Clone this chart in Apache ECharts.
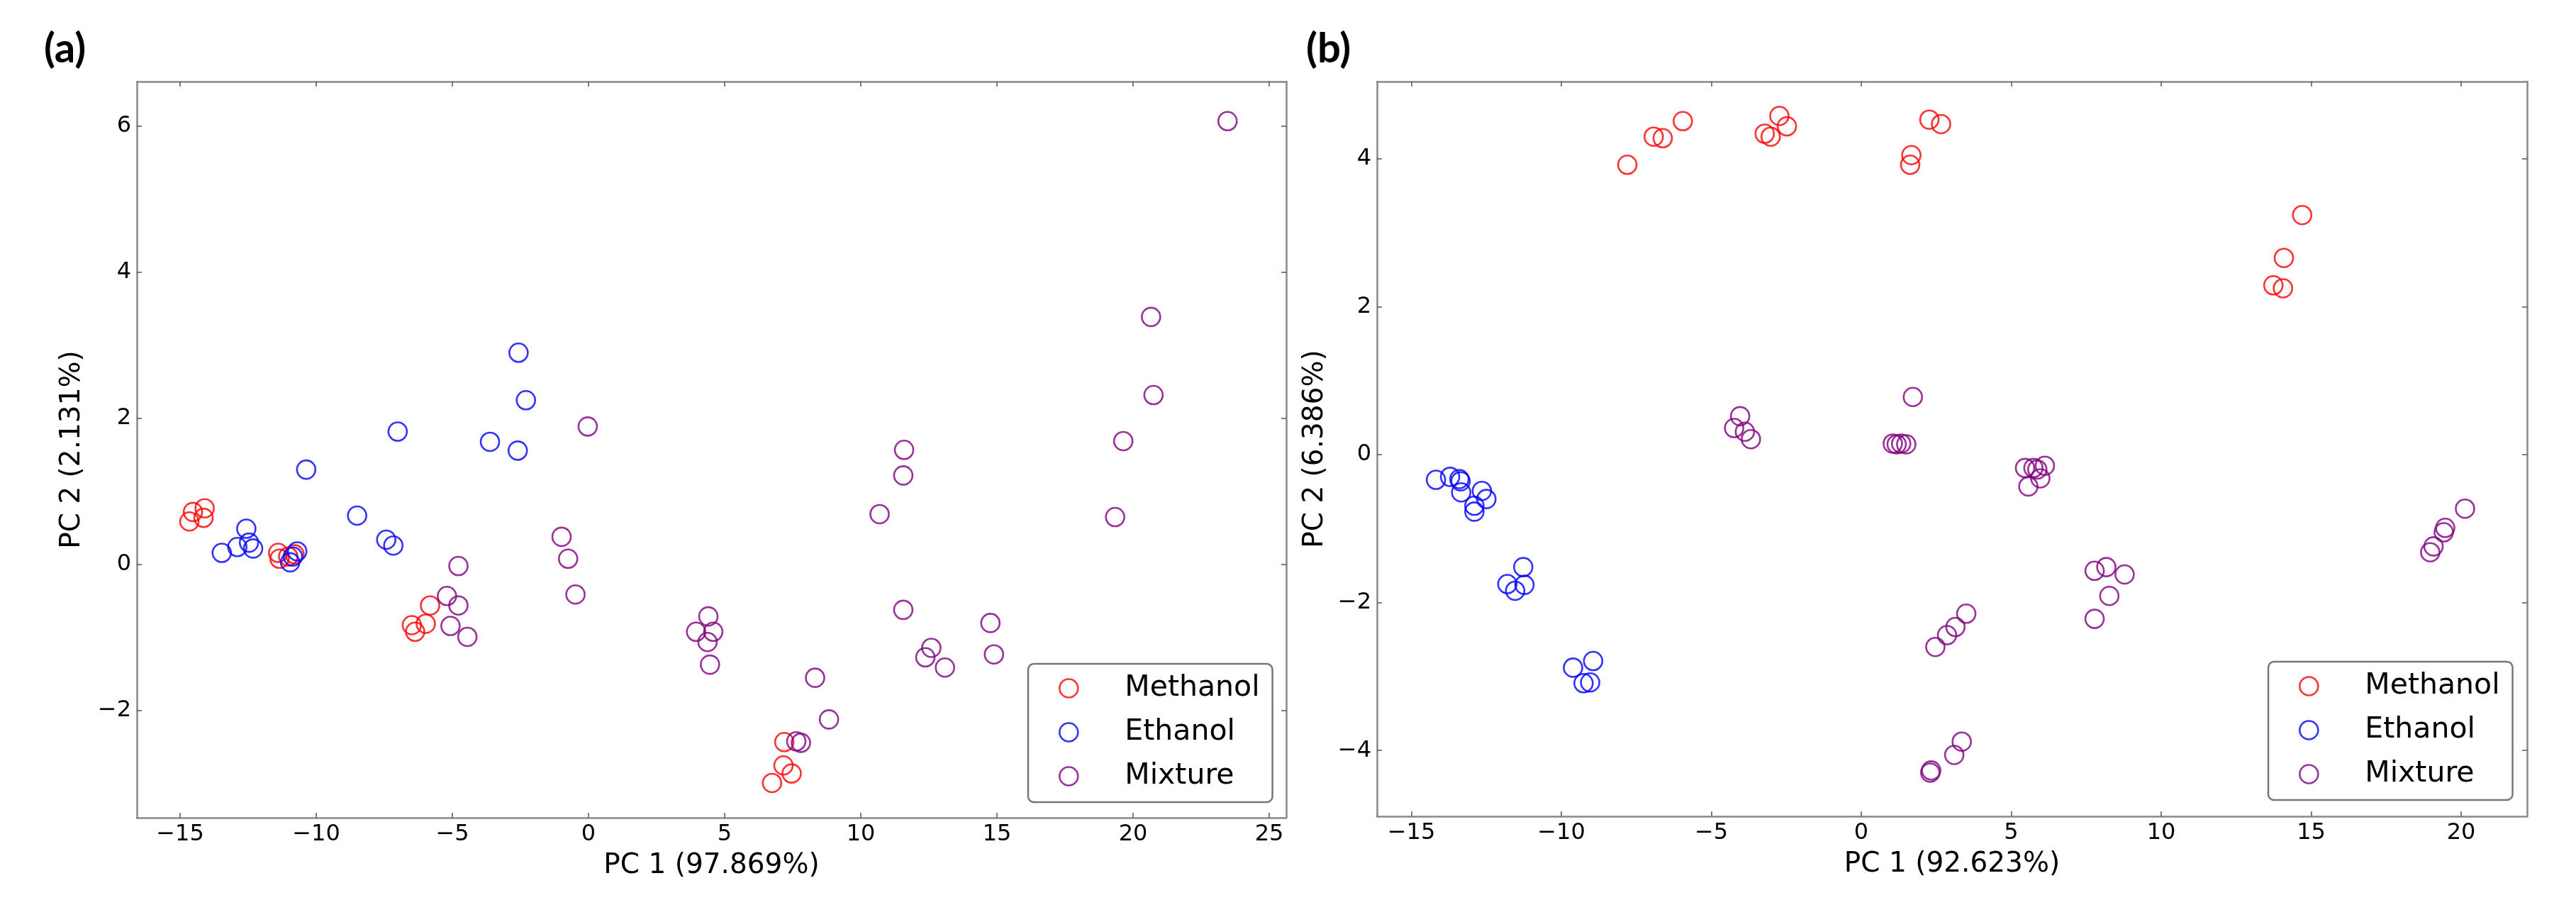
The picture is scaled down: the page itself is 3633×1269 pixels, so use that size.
<!DOCTYPE html>
<html>
<head>
<meta charset="utf-8">
<script src="https://cdn.jsdelivr.net/npm/echarts@6/dist/echarts.min.js"></script>
<style>
html, body { margin: 0; padding: 0; background: #fff; }
#chart { width: 3633px; height: 1269px; }
</style>
</head>
<body>
<div id="chart"></div>
<script>
const seriesNames = ["Methanol", "Ethanol", "Mixture"];
const seriesColors = ["#ff0000", "#0000ff", "#800080"];
const panelLabels = ["(a)", "(b)"];

// panel (a)
const methanolA = [
    [-14.66, 0.59], [-14.53, 0.72], [-14.10, 0.77], [-14.14, 0.64],
    [-11.40, 0.16], [-11.35, 0.08], [-11.03, 0.11], [-10.80, 0.14],
    [-5.82, -0.56], [-5.98, -0.81], [-6.49, -0.83], [-6.37, -0.92],
    [7.19, -2.43], [7.16, -2.75], [7.46, -2.86], [6.74, -2.99]
];
const ethanolA = [
    [-13.47, 0.16], [-12.90, 0.24], [-12.57, 0.49], [-12.47, 0.30], [-12.32, 0.22],
    [-10.96, 0.03], [-10.86, 0.11], [-10.70, 0.18],
    [-10.37, 1.30], [-8.50, 0.67], [-7.43, 0.34], [-7.17, 0.26], [-7.01, 1.82],
    [-3.62, 1.68], [-2.60, 1.56], [-2.57, 2.90], [-2.30, 2.25]
];
const mixtureA = [
    [-4.78, -0.02], [-5.20, -0.43], [-4.78, -0.56], [-5.07, -0.84], [-4.45, -0.99],
    [-0.99, 0.38], [-0.75, 0.08], [-0.48, -0.41], [-0.03, 1.89],
    [3.95, -0.92], [4.40, -0.71], [4.58, -0.92], [4.37, -1.06], [4.46, -1.37],
    [8.32, -1.55], [8.83, -2.12], [7.63, -2.42], [7.80, -2.44],
    [10.69, 0.69], [11.59, 1.57], [11.56, 1.22], [11.56, -0.62],
    [12.59, -1.14], [12.37, -1.27], [13.09, -1.41], [14.76, -0.80], [14.89, -1.23],
    [19.34, 0.65], [19.64, 1.69], [20.66, 3.39], [20.75, 2.32], [23.47, 6.07]
];

// panel (b)
const methanolB = [
    [-7.80, 3.92], [-6.92, 4.30], [-6.62, 4.28], [-5.95, 4.51],
    [-3.22, 4.34], [-3.02, 4.30], [-2.73, 4.58], [-2.48, 4.44],
    [2.27, 4.53], [2.66, 4.47], [1.67, 4.05], [1.63, 3.92],
    [14.70, 3.24], [14.09, 2.66], [13.74, 2.29], [14.06, 2.25]
];
const ethanolB = [
    [-14.18, -0.34], [-13.71, -0.30], [-13.40, -0.33], [-13.36, -0.36], [-13.34, -0.51],
    [-12.65, -0.49], [-12.50, -0.60], [-12.90, -0.69], [-12.90, -0.77],
    [-11.27, -1.52], [-11.80, -1.75], [-11.23, -1.76], [-11.54, -1.84],
    [-8.94, -2.79], [-9.61, -2.88], [-9.26, -3.09], [-9.04, -3.08]
];
const mixtureB = [
    [-4.24, 0.36], [-4.04, 0.52], [-3.88, 0.31], [-3.68, 0.21],
    [1.72, 0.78], [1.05, 0.15], [1.18, 0.14], [1.33, 0.15], [1.50, 0.14],
    [5.46, -0.18], [5.74, -0.18], [5.87, -0.20], [6.12, -0.15], [5.97, -0.32], [5.57, -0.43],
    [7.78, -1.57], [8.17, -1.52], [8.78, -1.62], [8.27, -1.91], [7.78, -2.22],
    [2.47, -2.60], [2.86, -2.44], [3.14, -2.33], [3.50, -2.15],
    [2.30, -4.30], [2.33, -4.27], [3.10, -4.06], [3.35, -3.88],
    [20.13, -0.73], [19.47, -0.99], [19.42, -1.05], [19.08, -1.24], [18.97, -1.32]
];

const xTicksA = [-15, -10, -5, 0, 5, 10, 15, 20, 25];
const yTicksA = [-2, 0, 2, 4, 6];
const xTicksB = [-15, -10, -5, 0, 5, 10, 15, 20];
const yTicksB = [-4, -2, 0, 2, 4];
const axisTitlesA = ["PC 1 (97.869%)", "PC 2 (2.131%)"];
const axisTitlesB = ["PC 1 (92.623%)", "PC 2 (6.386%)"];

const font = "DejaVu Sans";

function fmt(v) {
    return String(v).replace("-", "\u2212");
}

function valueAxis(gridIndex, position, range, ticks, showLabel, name, nameGap) {
    return {
        type: "value",
        gridIndex: gridIndex,
        position: position,
        min: range[0],
        max: range[1],
        name: name || "",
        nameLocation: "middle",
        nameGap: nameGap || 0,
        nameTextStyle: { fontFamily: font, fontSize: 39, color: "#000" },
        axisLine: { show: true, onZero: false, lineStyle: { color: "#888", width: 2.5 } },
        axisTick: { show: true, inside: true, length: 7, customValues: ticks,
                    lineStyle: { color: "#555", width: 1.5 } },
        axisLabel: { show: showLabel, customValues: ticks, formatter: fmt, margin: 8,
                     fontFamily: font, fontSize: 32, color: "#000" },
        splitLine: { show: false }
    };
}

function scatter(k, data, axisIndex) {
    return {
        type: "scatter",
        name: seriesNames[k],
        data: data,
        xAxisIndex: axisIndex,
        yAxisIndex: axisIndex,
        symbol: "circle",
        symbolSize: 26,
        itemStyle: { color: "rgba(0,0,0,0)", borderColor: seriesColors[k], borderWidth: 2.6 },
        emphasis: { disabled: true },
        silent: true
    };
}

function legendAt(left, top) {
    return {
        data: seriesNames,
        orient: "vertical",
        left: left,
        top: top,
        itemWidth: 26,
        itemHeight: 26,
        itemGap: 21,
        padding: [14, 18, 16, 43],
        borderColor: "#777",
        borderWidth: 2.5,
        borderRadius: 8,
        backgroundColor: "#fff",
        selectedMode: false,
        itemStyle: { borderWidth: 2.6 },
        textStyle: { fontFamily: font, fontSize: 41, color: "#000", padding: [0, 0, 0, 61] }
    };
}

const rangeXA = [-16.59, 25.625], rangeYA = [-3.466, 6.612];
const rangeXB = [-16.147, 22.199], rangeYB = [-4.89, 5.045];

const labelStyle = { fontFamily: "Lato", fontWeight: "bold", fontSize: 58, color: "#000" };

const chart = echarts.init(document.getElementById("chart"));
chart.setOption({
    animation: false,
    backgroundColor: "#fff",
    title: [
        { text: panelLabels[0], left: 62, top: 40, padding: 0, textStyle: labelStyle },
        { text: panelLabels[1], left: 1842, top: 40, padding: 0, textStyle: labelStyle }
    ],
    grid: [
        { left: 193, top: 115, width: 1621, height: 1038 },
        { left: 1942, top: 115, width: 1622, height: 1036 }
    ],
    xAxis: [
        valueAxis(0, "bottom", rangeXA, xTicksA, true, axisTitlesA[0], 48),
        valueAxis(0, "top", rangeXA, xTicksA, false),
        valueAxis(1, "bottom", rangeXB, xTicksB, true, axisTitlesB[0], 48),
        valueAxis(1, "top", rangeXB, xTicksB, false)
    ],
    yAxis: [
        valueAxis(0, "left", rangeYA, yTicksA, true, axisTitlesA[1], 72),
        valueAxis(0, "right", rangeYA, yTicksA, false),
        valueAxis(1, "left", rangeYB, yTicksB, true, axisTitlesB[1], 68),
        valueAxis(1, "right", rangeYB, yTicksB, false)
    ],
    legend: [legendAt(1450, 936), legendAt(3199, 933)],
    series: [
        scatter(0, methanolA, 0),
        scatter(1, ethanolA, 0),
        scatter(2, mixtureA, 0),
        scatter(0, methanolB, 2),
        scatter(1, ethanolB, 2),
        scatter(2, mixtureB, 2)
    ]
});
</script>
</body>
</html>
